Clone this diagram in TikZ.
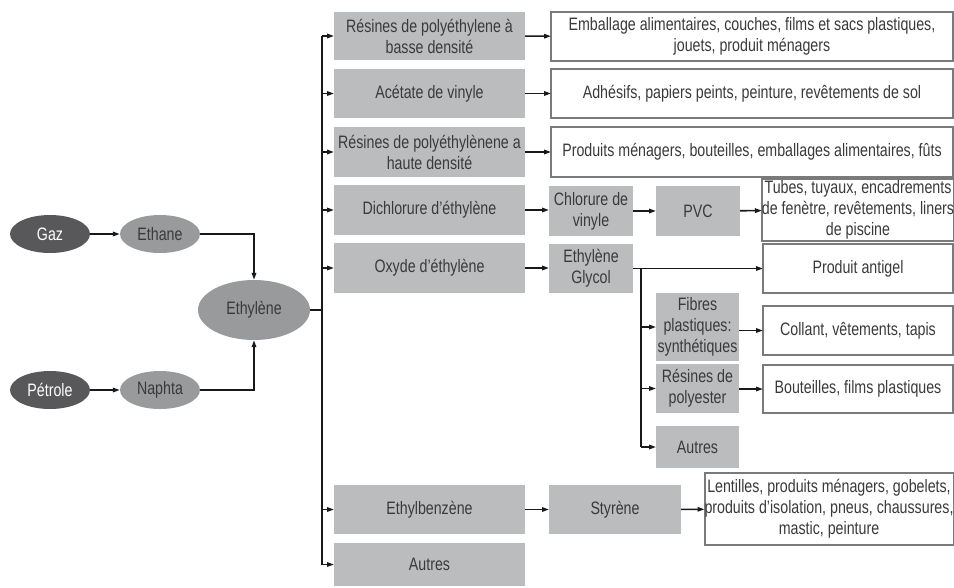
\documentclass[tikz,border=0pt]{standalone}
\usepackage{fontspec}
\setmainfont{Liberation Sans}[FakeStretch=0.79]
\usepackage{tikz}
\usetikzlibrary{shapes.geometric,arrows.meta}
\definecolor{boxgray}{HTML}{BBBCBE}
\definecolor{darkell}{HTML}{58585A}
\definecolor{midell}{HTML}{999A9C}
\definecolor{edgegray}{HTML}{7A7A7A}
\definecolor{txtgray}{HTML}{3A3A3A}
\tikzstyle{src} = [ellipse, fill=darkell, text=white, inner sep=0pt, minimum width=80pt, minimum height=38pt]
\tikzstyle{gas} = [ellipse, fill=midell, text=txtgray, inner sep=0pt, minimum width=80pt, minimum height=38pt]
\tikzstyle{prod} = [rectangle, fill=boxgray, text=txtgray, align=center, inner sep=0pt, outer sep=0pt]
\tikzstyle{usage} = [rectangle, draw=edgegray, line width=2pt, fill=white, text=txtgray, align=center, inner sep=0pt, outer sep=0pt]
\tikzstyle{arr} = [-{Triangle[length=7pt,width=4.5pt]}, line width=1.6pt, draw=black!90]
\tikzstyle{ln} = [line width=1.6pt, draw=black!90]

\begin{document}
\begin{tikzpicture}[x=1pt,y=-1pt,font={\fontsize{18}{21}\selectfont}]
  \useasboundingbox (0,0) rectangle (954,587);
  % sources
  \node[src](gaz) at (50,234){Gaz};
  \node[gas](ethane) at (160,234){Ethane};
  \node[src](petrole) at (50,390){Pétrole};
  \node[gas](naphta) at (160,390){Naphta};
  \node[gas,minimum width=112pt,minimum height=60pt](ethylene) at (254,310){Ethylène};
  % first derivatives
  \node[prod,minimum width=191pt,minimum height=48pt](r1) at (429.5,36){Résines de polyéthylene à\\basse densité};
  \node[prod,minimum width=191pt,minimum height=49pt](r2) at (429.5,93.5){Acétate de vinyle};
  \node[prod,minimum width=191pt,minimum height=50pt](r3) at (429.5,152){Résines de polyéthylènene a\\haute densité};
  \node[prod,minimum width=191pt,minimum height=50pt](r4) at (429.5,210){Dichlorure d’éthylène};
  \node[prod,minimum width=191pt,minimum height=50pt](r5) at (429.5,268){Oxyde d’éthylène};
  \node[prod,minimum width=191pt,minimum height=49pt](r6) at (429.5,509.5){Ethylbenzène};
  \node[prod,minimum width=191pt,minimum height=43pt](r7) at (429.5,564.5){Autres};
  % further steps
  \node[prod,minimum width=84pt,minimum height=50pt](chlorure) at (591,211){Chlorure de\\vinyle};
  \node[prod,minimum width=84pt,minimum height=50pt](pvc) at (698,211){PVC};
  \node[prod,minimum width=84pt,minimum height=49pt](glycol) at (591,268.5){Ethylène\\Glycol};
  \node[prod,minimum width=83pt,minimum height=68pt](fibres) at (697.5,327){Fibres\\plastiques:\\synthétiques};
  \node[prod,minimum width=83pt,minimum height=49pt](polyester) at (697.5,388.5){Résines de\\polyester};
  \node[prod,minimum width=83pt,minimum height=42pt](autres) at (697.5,447){Autres};
  \node[prod,minimum width=132pt,minimum height=49pt](styrene) at (615,509.5){Styrène};
  % uses
  \node[usage,minimum width=402pt,minimum height=49pt](u1) at (752,36.5){Emballage alimentaires, couches, films et sacs plastiques,\\jouets, produit ménagers};
  \node[usage,minimum width=402pt,minimum height=49pt](u2) at (752,93.5){Adhésifs, papiers peints, peinture, revêtements de sol};
  \node[usage,minimum width=402pt,minimum height=50pt](u3) at (752,152){Produits ménagers, bouteilles, emballages alimentaires, fûts};
  \node[usage,minimum width=190pt,minimum height=62pt](tubes) at (858,210){Tubes, tuyaux, encadrements\\de fenètre, revêtements, liners\\de piscine};
  \node[usage,minimum width=190pt,minimum height=49pt](antigel) at (858,268.5){Produit antigel};
  \node[usage,minimum width=190pt,minimum height=49pt](collant) at (858,330.5){Collant, vêtements, tapis};
  \node[usage,minimum width=190pt,minimum height=48pt](bouteilles) at (858,389){Bouteilles, films plastiques};
  \node[usage,minimum width=248pt,minimum height=72pt](lentilles) at (829,509){Lentilles, produits ménagers, gobelets,\\produits d’isolation, pneus, chaussures,\\mastic, peinture};
  \coordinate (tr) at (322,0);
  \coordinate (st) at (641,0);
  % connectors
  \draw[arr](gaz)--(ethane);
  \draw[arr](petrole)--(naphta);
  \draw[arr](ethane.east)-|(ethylene.north);
  \draw[arr](naphta.east)-|(ethylene.south);
  \draw[ln](ethylene.east)--(ethylene.east -| tr);
  \draw[ln](tr |- r1)--(tr |- r7);
  \foreach \r in {r1,r2,r3,r4,r5,r6,r7}
    \draw[arr](tr |- \r)--(\r.west);
  \draw[arr](r1)--(u1);
  \draw[arr](r2)--(u2);
  \draw[arr](r3)--(u3);
  \draw[arr](r4.east)--(chlorure.west |- r4);
  \draw[arr](chlorure)--(pvc);
  \draw[arr](pvc)--(tubes);
  \draw[arr](r5.east)--(glycol.west |- r5);
  \draw[arr](glycol)--(antigel);
  \draw[ln](st |- glycol)--(st |- autres);
  \foreach \r in {fibres,polyester,autres}
    \draw[arr](st |- \r)--(\r.west);
  \draw[arr](fibres.east |- collant)--(collant.west);
  \draw[arr](polyester.east |- bouteilles)--(bouteilles.west);
  \draw[arr](r6)--(styrene);
  \draw[arr](styrene)--(lentilles);
\end{tikzpicture}
\end{document}
